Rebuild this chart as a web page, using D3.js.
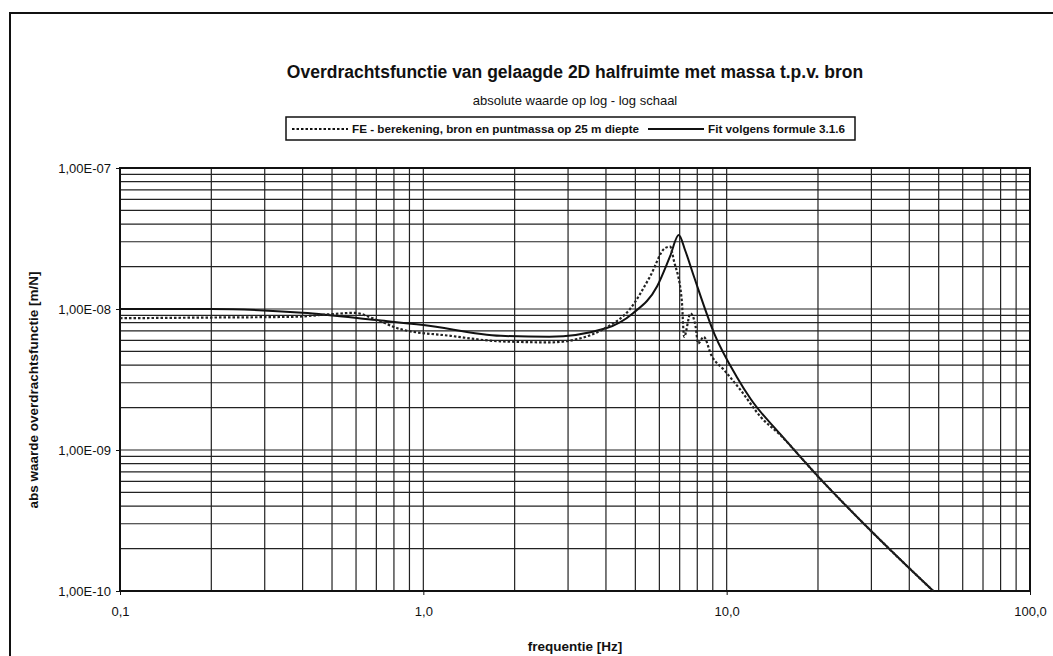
<!DOCTYPE html>
<html>
<head>
<meta charset="utf-8">
<script src="https://cdn.jsdelivr.net/npm/d3@7"></script>
<style>
    body { margin: 0; background: #fff; }
    text { font-family: "Liberation Sans", Arial, sans-serif; fill: #111; }
</style>
</head>
<body>
<div id="chart"></div>
<script>
const WIDTH = 1053;
const HEIGHT = 656;
const MARGIN = {
    top: 168, right: 23, bottom: 65, left: 120
};

// FE - berekening (dotted)
const feFreq = [0.1, 0.2, 0.37, 0.5, 0.59, 0.7, 0.84, 1.23, 1.79, 2.62, 3.3, 3.97, 4.8, 5.59,
    6.26, 6.51, 6.7, 7.11, 7.24, 7.6, 7.9, 8.05, 8.4, 8.9, 9.8, 11.1, 13, 15, 20, 30, 40, 48];
const feValues = [8.6e-9, 8.7e-9, 8.8e-9, 9.2e-9, 9.4e-9, 8.4e-9, 7.2e-9, 6.45e-9, 5.9e-9, 5.8e-9,
    6.2e-9, 7.3e-9, 1.0e-8, 1.7e-8, 2.7e-8, 2.77e-8, 2.2e-8, 1.16e-8, 6.35e-9, 9.3e-9, 7.5e-9,
    5.7e-9, 6.35e-9, 4.7e-9, 3.7e-9, 2.67e-9, 1.7e-9, 1.28e-9, 6.5e-10, 2.65e-10, 1.45e-10, 1.0e-10];

// Fit volgens formule 3.1.6 (solid)
const fitFreq = [0.1, 0.2, 0.4, 0.7, 1.0, 1.8, 2.6, 4.0, 4.9, 5.9, 6.5, 6.95, 7.3, 7.8, 9.1,
    10.8, 12, 15, 20, 30, 40, 48];
const fitValues = [1.0e-8, 1.0e-8, 9.4e-9, 8.35e-9, 7.7e-9, 6.45e-9, 6.35e-9, 7.3e-9, 9.3e-9,
    1.45e-8, 2.35e-8, 3.35e-8, 2.6e-8, 1.7e-8, 6.7e-9, 3.3e-9, 2.3e-9, 1.3e-9, 6.5e-10,
    2.65e-10, 1.45e-10, 1.0e-10];

const xTicks = [0.1, 1, 10, 100];
const xTickLabels = ['0,1', '1,0', '10,0', '100,0'];
const yTicks = [1e-10, 1e-9, 1e-8, 1e-7];
const yTickLabels = ['1,00E-10', '1,00E-09', '1,00E-08', '1,00E-07'];

const svg = d3.select('#chart').append('svg')
    .attr('width', WIDTH)
    .attr('height', HEIGHT);

svg.append('rect')
    .attr('width', WIDTH)
    .attr('height', HEIGHT)
    .attr('fill', '#fff');

// outer frame of the chart object
svg.append('rect')
    .attr('x', 10)
    .attr('y', 13)
    .attr('width', WIDTH + 20)
    .attr('height', HEIGHT + 20)
    .attr('fill', 'none')
    .attr('stroke', '#111')
    .attr('stroke-width', 2);

const x = d3.scaleLog()
    .domain([0.1, 100])
    .range([MARGIN.left, WIDTH - MARGIN.right]);
const y = d3.scaleLog()
    .domain([1e-10, 1e-7])
    .range([HEIGHT - MARGIN.bottom, MARGIN.top]);

// grid: 1..9 per decade
const xGrid = [];
[0.1, 1, 10].forEach(d => d3.range(1, 10).forEach(k => xGrid.push(d * k)));
const yGrid = [];
[1e-10, 1e-9, 1e-8].forEach(d => d3.range(1, 10).forEach(k => yGrid.push(d * k)));

const grid = svg.append('g').attr('stroke', '#222').attr('stroke-width', 1.2);
grid.selectAll('.gx').data(xGrid).join('line')
    .attr('x1', d => x(d)).attr('x2', d => x(d))
    .attr('y1', y(1e-7)).attr('y2', y(1e-10));
grid.selectAll('.gy').data(yGrid).join('line')
    .attr('y1', d => y(d)).attr('y2', d => y(d))
    .attr('x1', x(0.1)).attr('x2', x(100));

// plot frame
svg.append('rect')
    .attr('x', x(0.1))
    .attr('y', y(1e-7))
    .attr('width', x(100) - x(0.1))
    .attr('height', y(1e-10) - y(1e-7))
    .attr('fill', 'none')
    .attr('stroke', '#111')
    .attr('stroke-width', 2);

// axes
svg.append('g')
    .attr('transform', `translate(0, ${y(1e-10)})`)
    .call(d3.axisBottom(x).tickValues(xTicks).tickSize(4).tickFormat((d, i) => xTickLabels[i]))
    .call(g => g.select('.domain').remove())
    .call(g => g.selectAll('line').attr('stroke', '#111'))
    .call(g => g.selectAll('text')
        .attr('font-size', 13)
        .attr('dy', '1.35em'));

svg.append('g')
    .attr('transform', `translate(${x(0.1)}, 0)`)
    .call(d3.axisLeft(y).tickValues(yTicks).tickSize(4).tickFormat((d, i) => yTickLabels[i]))
    .call(g => g.select('.domain').remove())
    .call(g => g.selectAll('line').attr('stroke', '#111'))
    .call(g => g.selectAll('text')
        .attr('font-size', 13)
        .attr('x', -9));

// curves
const line = d3.line()
    .x(d => x(d[0]))
    .y(d => y(d[1]))
    .curve(d3.curveMonotoneX);

svg.append('path')
    .datum(fitFreq.map((f, i) => [f, fitValues[i]]))
    .attr('d', line)
    .attr('fill', 'none')
    .attr('stroke', '#111')
    .attr('stroke-width', 2);

svg.append('path')
    .datum(feFreq.map((f, i) => [f, feValues[i]]))
    .attr('d', line)
    .attr('fill', 'none')
    .attr('stroke', '#222')
    .attr('stroke-width', 2.2)
    .attr('stroke-dasharray', '2.5,2');

// titles
const centerX = (x(0.1) + x(100)) / 2;
svg.append('text')
    .attr('x', centerX)
    .attr('y', 78)
    .attr('text-anchor', 'middle')
    .attr('font-size', 17.5)
    .attr('font-weight', 'bold')
    .text('Overdrachtsfunctie van gelaagde 2D halfruimte met massa t.p.v. bron');

svg.append('text')
    .attr('x', centerX)
    .attr('y', 105)
    .attr('text-anchor', 'middle')
    .attr('font-size', 13)
    .text('absolute waarde op log - log schaal');

svg.append('text')
    .attr('x', centerX)
    .attr('y', 651)
    .attr('text-anchor', 'middle')
    .attr('font-size', 13.5)
    .attr('font-weight', 'bold')
    .text('frequentie [Hz]');

svg.append('text')
    .attr('transform', 'translate(38, 390) rotate(-90)')
    .attr('text-anchor', 'middle')
    .attr('font-size', 13.5)
    .attr('font-weight', 'bold')
    .text('abs waarde overdrachtsfunctie [m/N]');

// legend
const legend = svg.append('g').attr('transform', 'translate(286, 117)');
legend.append('rect')
    .attr('width', 569)
    .attr('height', 23)
    .attr('fill', '#fff')
    .attr('stroke', '#111')
    .attr('stroke-width', 1.5);

const legendItems = [
    { label: 'FE - berekening, bron en puntmassa op 25 m diepte', dash: '2.5,2', x0: 6 },
    { label: 'Fit volgens formule 3.1.6', dash: null, x0: 362 }
];
legendItems.forEach(item => {
    const g = legend.append('g').attr('transform', `translate(${item.x0}, 12)`);
    g.append('line')
        .attr('x1', 0).attr('x2', 56)
        .attr('stroke', '#111')
        .attr('stroke-width', 2)
        .attr('stroke-dasharray', item.dash);
    g.append('text')
        .attr('x', 60)
        .attr('dy', '0.35em')
        .attr('font-size', 11.7)
        .attr('font-weight', 'bold')
        .text(item.label);
});
</script>
</body>
</html>
